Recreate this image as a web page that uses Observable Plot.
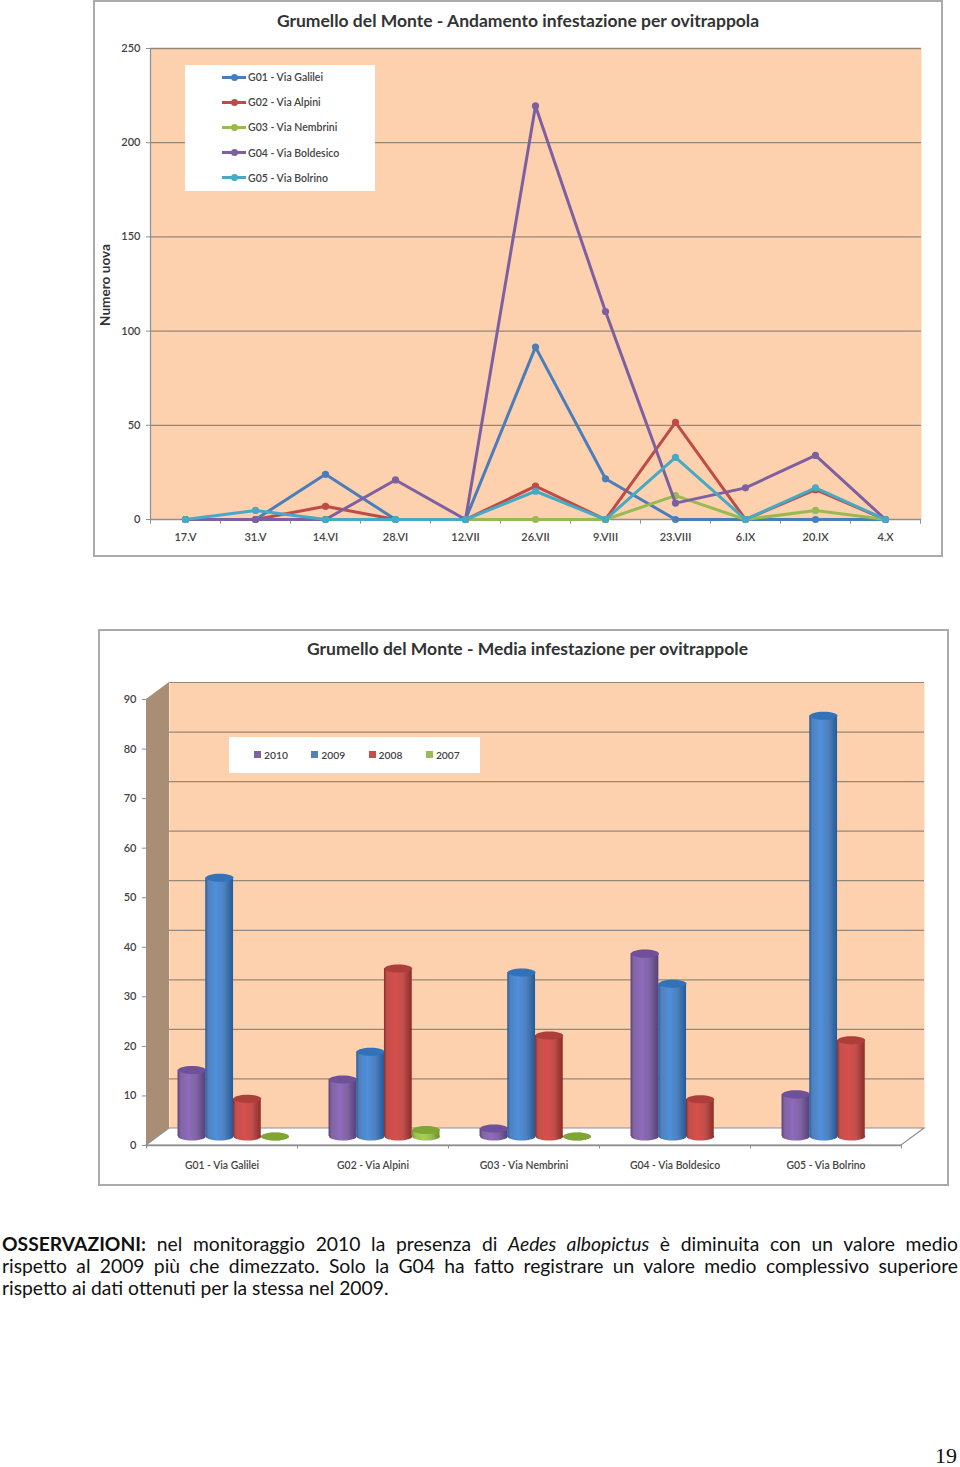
<!DOCTYPE html>
<html lang="it"><head><meta charset="utf-8">
<script src="https://cdn.jsdelivr.net/npm/d3@7"></script>
<script src="https://cdn.jsdelivr.net/npm/@observablehq/plot@0.6"></script>
<style>
html,body{margin:0;padding:0;background:#fff;}
body{position:relative;width:960px;height:1467px;overflow:hidden;font-family:Lato,sans-serif;}
.plot{position:absolute;}
.plot svg{display:block;}
.abs{position:absolute;white-space:nowrap;}
.title{font-weight:700;color:#333;transform:translateX(-50%);line-height:20px;}
.box{position:absolute;background:#fff;}
.txt{position:absolute;left:2px;width:956px;font-family:"Century Gothic",Lato,sans-serif;font-size:19.3px;line-height:22px;color:#111;text-align:justify;text-align-last:justify;}
</style></head><body>
<div id="c1" class="plot" style="left:93px;top:0"></div>
<div id="c2" class="plot" style="left:98px;top:629px"></div>
<script>
// ---------- Chart 1 data ----------
const title1 = "Grumello del Monte - Andamento infestazione per ovitrappola";
const yLabel1 = "Numero uova";
const dates = ["17.V","31.V","14.VI","28.VI","12.VII","26.VII","9.VIII","23.VIII","6.IX","20.IX","4.X"];
const g01 = [0,0,24,0,0,91.5,21.6,0,0,0,0];
const g02 = [0,0,7,0,0,17.7,0,51.5,0,15.8,0];
const g03 = [0,0,0,0,0,0,0,12.7,0,4.8,0];
const g04 = [0,0,0,21,0,219.5,110.4,8.7,16.8,34,0];
const g05 = [0,4.8,0,0,0,15,0,33,0,16.8,0];
const seriesNames = ["G01 - Via Galilei","G02 - Via Alpini","G03 - Via Nembrini","G04 - Via Boldesico","G05 - Via Bolrino"];
const seriesValues = [g01,g02,g03,g04,g05];
const seriesColors = ["#4a7ebb","#be4b48","#98b954","#7d60a0","#46aac5"];
const ticks1 = [0,50,100,150,200,250];

// ---------- Chart 2 data ----------
const title2 = "Grumello del Monte - Media infestazione per ovitrappole";
const sites = ["G01 - Via Galilei","G02 - Via Alpini","G03 - Via Nembrini","G04 - Via Boldesico","G05 - Via Bolrino"];
const years = ["2010","2009","2008","2007"];
const y2010 = [13.4,11.5,1.6,36.9,8.5];
const y2009 = [52.2,17.1,33.1,30.8,84.9];
const y2008 = [7.6,33.9,20.4,7.5,19.4];
const y2007 = [0,1.3,0,null,null];
const yearValues = [y2010,y2009,y2008,y2007];
const ticks2 = [0,10,20,30,40,50,60,70,80,90];
const yearColors = ["#8064a2","#4f81bd","#c0504d","#9bbb59"];
const yearDark = ["#573f7c","#245a99","#8e2b28","#6c8f2a"];
const yearLight = ["#8f6bbd","#4f8fdc","#d84f4a","#a6d24c"];
const yearTop = ["#6f5199","#3272b8","#ad3e3a","#7fa534"];

const wallFill = "#fdd0ae";
const gridColor = "#94897a";
const axisColor = "#8f8f8f";
const textColor = "#444";
const pageFont = "Lato, sans-serif";
const frameStyle = {fontFamily:pageFont,fontSize:"11px",background:"#fff",overflow:"visible",color:textColor,
  outline:"2px solid #aaa",outlineOffset:"-2px"};

// ---------- Chart 1 ----------
const rows1 = seriesNames.flatMap((name,i)=>dates.map((date,j)=>({name,date,value:seriesValues[i][j]})));
const chart1 = Plot.plot({
  width:850,height:557,marginLeft:57,marginRight:22,marginTop:48,marginBottom:38,
  style:frameStyle,
  x:{type:"point",domain:dates,range:[92,792],padding:0,round:false},
  y:{domain:[0,250],grid:false},
  color:{domain:seriesNames,range:seriesColors},
  marks:[
    Plot.frame({fill:wallFill,stroke:null}),
    Plot.ruleY(ticks1.slice(1),{stroke:gridColor,strokeWidth:1.3}),
    Plot.ruleY([0],{stroke:axisColor,strokeWidth:1.3}),
    Plot.ruleX([dates[0]],{dx:-35,stroke:axisColor,strokeWidth:1.2}),
    Plot.ruleX(dates,{x:d=>d,y1:0,y2:-2.5,dx:-35,stroke:axisColor}),
    Plot.ruleX(dates.slice(-1),{x:d=>d,y1:0,y2:-2.5,dx:35,stroke:axisColor}),
    Plot.axisY({ticks:ticks1,tickSize:4,tickPadding:6,label:null,stroke:axisColor,fill:textColor,fontWeight:600}),
    Plot.axisX({tickSize:0,tickPadding:14,label:null,fill:textColor,fontWeight:600}),
    Plot.text([yLabel1],{frameAnchor:"left",textAnchor:"middle",rotate:-90,dx:-45,dy:1,fontWeight:"bold",fontSize:13.6,fill:"#333"}),
    ...seriesNames.flatMap(name=>{
      const d=rows1.filter(r=>r.name===name);
      return [
        Plot.line(d,{x:"date",y:"value",stroke:"name",strokeWidth:3,curve:"linear"}),
        Plot.dot(d,{x:"date",y:"value",fill:"name",r:3.6})
      ];
    })
  ]
});
document.getElementById("c1").append(chart1);

// ---------- Chart 2 ----------
const ellipseSymbol = {draw(ctx,size){
  const rx=Math.sqrt(size/Math.PI), ry=rx*0.29, k=0.5523;
  ctx.moveTo(-rx,0);
  ctx.bezierCurveTo(-rx,-ry*k,-rx*k,-ry,0,-ry);
  ctx.bezierCurveTo(rx*k,-ry,rx,-ry*k,rx,0);
  ctx.bezierCurveTo(rx,ry*k,rx*k,ry,0,ry);
  ctx.bezierCurveTo(-rx*k,ry,-rx,ry*k,-rx,0);
  ctx.closePath();
}};
const depthX = 23, depthY = 17;
const gradients = () => {
  const defs = d3.create("svg:defs");
  years.forEach((yr,i)=>{
    const g = defs.append("linearGradient").attr("id","cyl"+yr).attr("x1",0).attr("x2",1).attr("y1",0).attr("y2",0);
    [[0,yearDark[i]],[.1,yearColors[i]],[.4,yearLight[i]],[.68,yearColors[i]],[1,yearDark[i]]]
      .forEach(([o,c])=>g.append("stop").attr("offset",o).attr("stop-color",c));
  });
  return defs.node();
};
const walls = (index,scales,values,dims) => {
  const y0=scales.y(0), yTop=scales.y(90), xL=dims.marginLeft, xR=dims.width-dims.marginRight;
  const g=d3.create("svg:g");
  g.append("path").attr("d",`M${xL},${yTop}L${xL+depthX},${yTop-depthY}L${xL+depthX},${y0-depthY}L${xL},${y0}Z`)
    .attr("fill","#a98d74");
  g.append("path").attr("d",`M${xL},${y0}L${xL+depthX},${y0-depthY}L${xR+depthX},${y0-depthY}L${xR},${y0}Z`)
    .attr("fill","#fff").attr("stroke",axisColor).attr("stroke-width",1.2);
  return g.node();
};
const barShift = i => 11.5 + (i-1.5)*27.7;
const barMarks = years.flatMap((yr,i)=>{
  const d = sites.map((site,j)=>({site,value:yearValues[i][j]})).filter(r=>r.value!==null);
  const common = {x:"site",dx:barShift(i),dy:-9};
  return [
    Plot.dot(d,{...common,y:0,r:13.9,symbol:ellipseSymbol,fill:`url(#cyl${yr})`}),
    Plot.barY(d,{x:"site",y:"value",dx:barShift(i),dy:-9,insetLeft:61.6,insetRight:61.6,fill:`url(#cyl${yr})`}),
    Plot.dot(d,{...common,y:"value",r:13.9,symbol:ellipseSymbol,fill:yearTop[i]})
  ];
});
const chart2 = Plot.plot({
  width:851,height:557,marginLeft:48,marginRight:48,marginTop:70,marginBottom:41,
  style:frameStyle,
  x:{type:"band",domain:sites,padding:0,round:false},
  y:{domain:[0,90]},
  marks:[
    gradients,
    Plot.frame({fill:wallFill,stroke:null,dx:depthX,dy:-depthY}),
    walls,
    Plot.ruleY(ticks2.slice(1),{stroke:gridColor,strokeWidth:1.2,dx:depthX,dy:-depthY}),
    Plot.ruleY([0],{stroke:axisColor,strokeWidth:1.4}),
    Plot.ruleX(sites,{x:d=>d,y1:0,y2:-0.7,dx:-75.5,stroke:axisColor}),
    Plot.ruleX(sites.slice(-1),{x:d=>d,y1:0,y2:-0.7,dx:75.5,stroke:axisColor}),
    Plot.axisY({ticks:ticks2,tickSize:4,tickPadding:6,label:null,stroke:axisColor,fill:textColor,fontWeight:600}),
    Plot.axisX({tickSize:0,tickPadding:16,label:null,fill:textColor,fontWeight:600,fontSize:10.4}),
    ...barMarks
  ]
});
document.getElementById("c2").append(chart2);

// ---------- Titles and legends (HTML above the SVGs) ----------
function addEl(cls,css,html){const e=document.createElement("div");e.className=cls;e.style.cssText=css;if(html!=null)e.innerHTML=html;document.body.append(e);return e;}
addEl("abs title","left:518px;top:11px;font-size:17.5px",title1);
addEl("abs title","left:527.5px;top:639px;font-size:17.5px",title2);
addEl("box","left:185px;top:65px;width:190px;height:126px");
seriesNames.forEach((name,i)=>{
  const y=77+i*25.2;
  addEl("box",`left:222px;top:${y-1.5}px;width:24px;height:3px;background:${seriesColors[i]}`);
  addEl("box",`left:230.5px;top:${y-3.5}px;width:7px;height:7px;border-radius:50%;background:${seriesColors[i]}`);
  addEl("abs",`left:248px;top:${y-8}px;font-size:10.5px;line-height:16px;color:${textColor};font-weight:600`,name);
});
addEl("box","left:229px;top:737px;width:251px;height:36px");
years.forEach((yr,i)=>{
  const x=254+i*57.3;
  addEl("box",`left:${x}px;top:751px;width:7px;height:7px;background:${yearColors[i]}`);
  addEl("abs",`left:${x+10}px;top:747px;font-size:10.3px;line-height:16px;color:${textColor};font-weight:600`,yr);
});

// ---------- Text ----------
const para = [
  '<b>OSSERVAZIONI:</b> nel monitoraggio 2010 la presenza di <i>Aedes albopictus</i> è diminuita con un valore medio',
  'rispetto al 2009 più che dimezzato. Solo la G04 ha fatto registrare un valore medio complessivo superiore'
];
para.forEach((t,i)=>addEl("txt",`top:${1233+i*22}px`,t));
addEl("txt","top:1277px;width:auto;text-align:left;text-align-last:left;white-space:nowrap","rispetto ai dati ottenuti per la stessa nel 2009.");
addEl("abs",'right:3px;top:1443px;font-family:"Liberation Serif",serif;font-size:22px;line-height:26px;color:#111',"19");
</script>
</body></html>
